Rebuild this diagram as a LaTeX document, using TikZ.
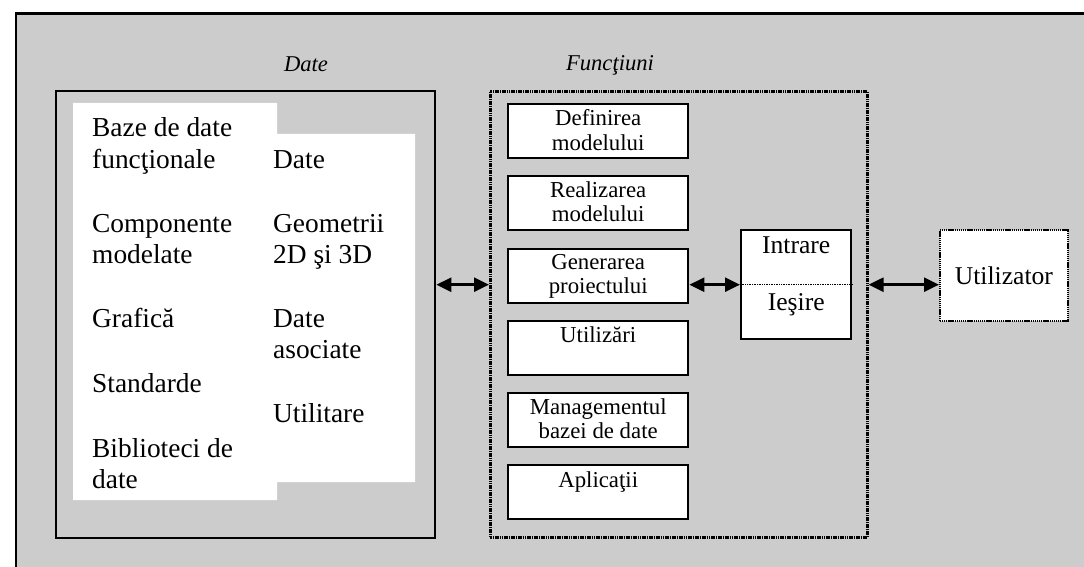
\documentclass[tikz,border=0pt]{standalone}
\usepackage{fontspec}
\setmainfont{Liberation Serif}
\usetikzlibrary{arrows.meta,calc}
\definecolor{bggray}{HTML}{CCCCCC}
\begin{document}
\begin{tikzpicture}[x=1pt,y=-1pt,
  frame/.style={draw=black,line width=2.4pt,inner sep=0pt,anchor=north west},
  fbox/.style={draw=black,line width=2.4pt,fill=white,inner sep=0pt,anchor=north west,minimum width=180pt,minimum height=54pt},
  big/.style={font=\fontsize{27.4}{32}\selectfont,anchor=base west,inner sep=0pt},
  small/.style={font=\fontsize{22.8}{24}\selectfont,anchor=base,inner sep=0pt},
  mid/.style={font=\fontsize{25.6}{26}\selectfont,anchor=base,inner sep=0pt},
  ttl/.style={font=\fontsize{22.6}{24}\selectfont\itshape,anchor=base,inner sep=0pt},
  arr/.style={line width=2.6pt,{Triangle[length=15pt,width=14pt]}-{Triangle[length=15pt,width=14pt]}}]
\useasboundingbox (0,0) rectangle (1084,567);
\clip (0,0) rectangle (1084,567);
\fill[white] (0,0) rectangle (1084,567);
\node[frame,fill=bggray,minimum width=1100pt,minimum height=600pt] (outer) at (14.5,12.5) {};

% Date
\node[ttl] (datetitle) at (306,72) {Date};
\node[frame,minimum width=379pt,minimum height=447pt] (datebox) at (55,90) {};
\fill[white] (73,103) -- (277,103) -- (277,134) -- (415,134) -- (415,482) -- (277,482) -- (277,500) -- (73,500) -- cycle;
\node[big] (l1a) at (92,137) {Baze de date};
\node[big] (l1b) at (92,168) {funcţionale};
\node[big] (l2a) at (92,232) {Componente};
\node[big] (l2b) at (92,263) {modelate};
\node[big] (l3) at (92,327) {Grafică};
\node[big] (l4) at (92,392) {Standarde};
\node[big] (l5a) at (92,457) {Biblioteci de};
\node[big] (l5b) at (92,488) {date};
\node[big] (r1) at (273,168) {Date};
\node[big] (r2a) at (273,232) {Geometrii};
\node[big] (r2b) at (273,263) {2D şi 3D};
\node[big] (r3a) at (273,327) {Date};
\node[big] (r3b) at (273,358) {asociate};
\node[big] (r4) at (273,422) {Utilitare};

% Functiuni
\node[ttl] (functitle) at (610,71) {Funcţiuni};
\node[frame,line width=2.6pt,dash pattern=on 1.6pt off 0.7pt,minimum width=377pt,minimum height=446pt] (func) at (489,90) {};
\node[fbox] (b1) at (507,103) {};
\node[fbox] (b2) at (507,175) {};
\node[fbox] (b3) at (507,248) {};
\node[fbox] (b4) at (507,320) {};
\node[fbox] (b5) at (507,392) {};
\node[fbox] (b6) at (507,464) {};
\node[small] (t1a) at ($(b1.north)+(0,23)$) {Definirea};
\node[small] (t1b) at ($(b1.north)+(0,47)$) {modelului};
\node[small] (t2a) at ($(b2.north)+(0,22)$) {Realizarea};
\node[small] (t2b) at ($(b2.north)+(0,46)$) {modelului};
\node[small] (t3a) at ($(b3.north)+(0,21)$) {Generarea};
\node[small] (t3b) at ($(b3.north)+(0,45)$) {proiectului};
\node[small] (t4) at ($(b4.north)+(0,22)$) {Utilizări};
\node[small] (t5a) at ($(b5.north)+(0,22)$) {Managementul};
\node[small] (t5b) at ($(b5.north)+(0,46)$) {bazei de date};
\node[small] (t6) at ($(b6.north)+(0,23)$) {Aplicaţii};

% Intrare / Iesire
\node[fbox,minimum width=110pt,minimum height=109pt] (io) at (740,229) {};
\draw[line width=1.2pt,dash pattern=on 1pt off 0.7pt] (io.west) -- (io.east);
\node[mid] (tin) at ($(io.north)+(0,24)$) {Intrare};
\node[mid] (tout) at ($(io.north)+(0,81)$) {Ieşire};

% Utilizator
\node[fbox,line width=1.8pt,dash pattern=on 1.2pt off 0.7pt,minimum width=128pt,minimum height=91pt] (user) at (939,229) {};
\node[mid] (tuser) at ($(user.center)+(0,9)$) {Utilizator};

% connectors
\draw[arr] (datebox.east |- io.west) -- (func.west |- io.west);
\draw[arr] (b3.east |- io.west) -- (io.west);
\draw[arr] (func.east |- io.west) -- (user.west |- io.west);
\end{tikzpicture}
\end{document}
